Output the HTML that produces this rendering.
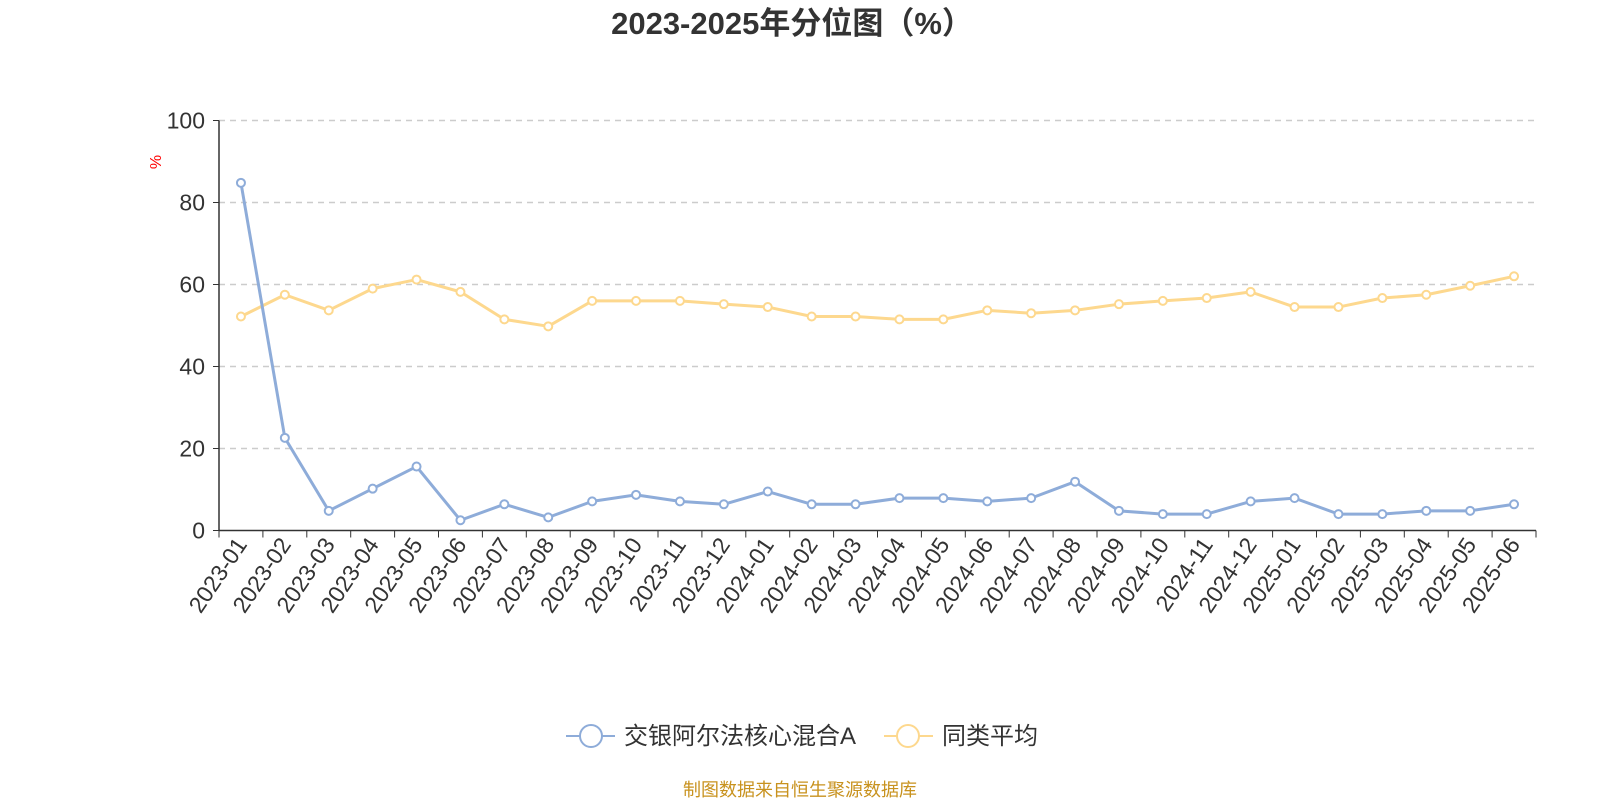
<!DOCTYPE html>
<html><head><meta charset="utf-8"><style>
body{margin:0;background:#fff}
svg{display:block;font-family:"Liberation Sans","Noto Sans CJK SC",sans-serif}
</style></head><body>
<svg id="c" width="1600" height="800">
<text x="792" y="34" text-anchor="middle" font-size="31" font-weight="bold" fill="#333">2023-2025年分位图（%）</text>
<text x="0" y="0" transform="translate(161,162) rotate(-90)" text-anchor="middle" font-size="16" fill="red">%</text>
<g id="grid"></g><g id="axes"></g><g id="series"></g>
<g>
<g>
<line x1="566" y1="736" x2="615" y2="736" stroke="#8eacd9" stroke-width="2"/>
<circle cx="591" cy="736" r="11" fill="#fff" stroke="#8eacd9" stroke-width="2"/>
<text x="624" y="744" font-size="24" fill="#333">交银阿尔法核心混合A</text></g>
<g>
<line x1="884" y1="736" x2="933" y2="736" stroke="#fdd88e" stroke-width="2"/>
<circle cx="908" cy="736" r="11" fill="#fff" stroke="#fdd88e" stroke-width="2"/>
<text x="942" y="744" font-size="24" fill="#333">同类平均</text></g>
</g>
<text x="800" y="796" text-anchor="middle" font-size="18" fill="#c8921e">制图数据来自恒生聚源数据库</text>
</svg>
<script>
const categories=["2023-01","2023-02","2023-03","2023-04","2023-05","2023-06","2023-07","2023-08","2023-09","2023-10","2023-11","2023-12","2024-01","2024-02","2024-03","2024-04","2024-05","2024-06","2024-07","2024-08","2024-09","2024-10","2024-11","2024-12","2025-01","2025-02","2025-03","2025-04","2025-05","2025-06"];
const fundValues=[84.8,22.6,4.8,10.2,15.6,2.5,6.4,3.2,7.1,8.7,7.1,6.4,9.5,6.4,6.4,7.9,7.9,7.1,7.9,11.9,4.8,4.0,4.0,7.1,7.9,4.0,4.0,4.8,4.8,6.4];
const peerValues=[52.2,57.5,53.7,59.0,61.2,58.2,51.5,49.8,56.0,56.0,56.0,55.2,54.5,52.2,52.2,51.5,51.5,53.7,53.0,53.7,55.2,56.0,56.7,58.2,54.5,54.5,56.7,57.5,59.7,62.0];
const yTicks=[0,20,40,60,80,100];
const NS="http://www.w3.org/2000/svg";
const L=219,R=1536,T=120.5,B=530.5;
const bw=(R-L)/categories.length;
const x=i=>L+bw*(i+0.5);
const y=v=>B-(v/100)*(B-T);
function mk(tag,attrs,parent){const e=document.createElementNS(NS,tag);for(const k in attrs)e.setAttribute(k,attrs[k]);parent.appendChild(e);return e;}
const grid=document.getElementById('grid'),axes=document.getElementById('axes'),series=document.getElementById('series');
yTicks.forEach(t=>{
 if(t>0){const g=mk('line',{x1:L,x2:R,y1:y(t),y2:y(t),stroke:'#ccc','stroke-dasharray':'6,5','stroke-width':1.5},grid);
 
 }
 mk('line',{x1:L-6,x2:L,y1:y(t),y2:y(t),stroke:'#333'},axes);
 const tx=mk('text',{x:L-14,y:y(t)+8,'text-anchor':'end','font-size':23,fill:'#333'},axes);
 tx.textContent=t;
 
 
});
const ya=mk('line',{x1:L,x2:L,y1:T,y2:B,stroke:'#333','stroke-width':1.5},axes);


const xa=mk('line',{x1:L,x2:R,y1:B,y2:B,stroke:'#333','stroke-width':1.5},axes);


for(let i=0;i<=categories.length;i++)mk('line',{x1:L+bw*i,x2:L+bw*i,y1:B,y2:B+7,stroke:'#333'},axes);
categories.forEach((c,i)=>{
 const t=mk('text',{x:0,y:0,transform:`translate(${x(i)+7},${B+14}) rotate(-56)`,'text-anchor':'end','font-size':23,fill:'#333'},axes);
 t.textContent=c;
 
 
});
function drawSeries(vals,color,name){
 const p=mk('polyline',{points:vals.map((v,i)=>x(i)+','+y(v)).join(' '),fill:'none',stroke:color,'stroke-width':3,'stroke-linejoin':'round'},series);
 
 
 vals.forEach((v,i)=>{const c=mk('circle',{cx:x(i),cy:y(v),r:4,fill:'#fff',stroke:color,'stroke-width':2},series);
 
 });
}
drawSeries(peerValues,'#fdd88e','peer-average');
drawSeries(fundValues,'#8eacd9','fund');
</script>
</body></html>
